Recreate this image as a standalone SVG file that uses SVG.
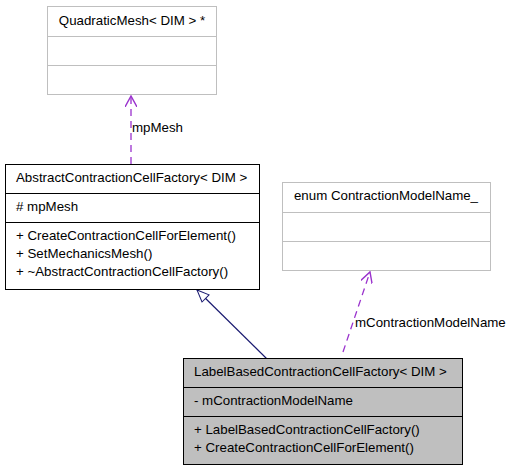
<svg xmlns="http://www.w3.org/2000/svg" width="513" height="472" viewBox="0 0 513 472">
<style>
text{font-family:"Liberation Sans",Arial,sans-serif;font-size:13.3px;fill:#000}
.gray rect,.gray line{stroke:#bfbfbf;fill:#fff}
.blk rect,.blk line{stroke:#000;fill:#fff}
.dash{stroke:#9a32cd;stroke-dasharray:7,5;fill:none;stroke-width:1.3}
</style>
<defs>
<marker id="open" viewBox="0 0 12 12" refX="11" refY="6" markerWidth="12" markerHeight="12" markerUnits="userSpaceOnUse" orient="auto"><path d="M0,0 L11,6 L0,12" fill="none" stroke="#9a32cd" stroke-width="1.4"/></marker>
<marker id="tri" viewBox="0 0 14 12" refX="13" refY="6" markerWidth="14" markerHeight="12" markerUnits="userSpaceOnUse" orient="auto"><path d="M1,1 L13,6 L1,11 Z" fill="#fff" stroke="#191970" stroke-width="1"/></marker>
</defs>
<g id="connectors">
<line class="dash" x1="131" y1="164" x2="131" y2="96" marker-end="url(#open)"/>
<text x="132" y="132">mpMesh</text>
<line x1="267" y1="359" x2="197" y2="290" stroke="#191970" stroke-width="1.2" marker-end="url(#tri)"/>
<line class="dash" x1="343" y1="352" x2="370" y2="272" marker-end="url(#open)"/>
<text x="355" y="327">mContractionModelName</text>
</g>
<g id="quadraticMesh" class="gray">
<rect x="47.5" y="6.5" width="169" height="88"/>
<line x1="47.5" y1="36.5" x2="216.5" y2="36.5"/>
<line x1="47.5" y1="65.5" x2="216.5" y2="65.5"/>
<text x="132" y="25" text-anchor="middle">QuadraticMesh&lt; DIM &gt; *</text>
</g>
<g id="abstractFactory" class="blk">
<rect x="5.5" y="164.5" width="254" height="125"/>
<line x1="5.5" y1="193.5" x2="259.5" y2="193.5"/>
<line x1="5.5" y1="222.5" x2="259.5" y2="222.5"/>
<text x="16" y="182">AbstractContractionCellFactory&lt; DIM &gt;</text>
<text x="16" y="211"># mpMesh</text>
<text x="16" y="240">+ CreateContractionCellForElement()</text>
<text x="16" y="258">+ SetMechanicsMesh()</text>
<text x="16" y="276">+ ~AbstractContractionCellFactory()</text>
</g>
<g id="enumModel" class="gray">
<rect x="282.5" y="182.5" width="208" height="88"/>
<line x1="282.5" y1="212.5" x2="490.5" y2="212.5"/>
<line x1="282.5" y1="241.5" x2="490.5" y2="241.5"/>
<text x="386" y="200" text-anchor="middle">enum ContractionModelName_</text>
</g>
<g id="labelFactory" class="blk">
<rect x="183.5" y="358.5" width="279" height="106" style="fill:#bfbfbf"/>
<line x1="183.5" y1="387.5" x2="462.5" y2="387.5"/>
<line x1="183.5" y1="416.5" x2="462.5" y2="416.5"/>
<text x="194" y="376">LabelBasedContractionCellFactory&lt; DIM &gt;</text>
<text x="194" y="405">- mContractionModelName</text>
<text x="194" y="434">+ LabelBasedContractionCellFactory()</text>
<text x="194" y="452">+ CreateContractionCellForElement()</text>
</g>
</svg>
